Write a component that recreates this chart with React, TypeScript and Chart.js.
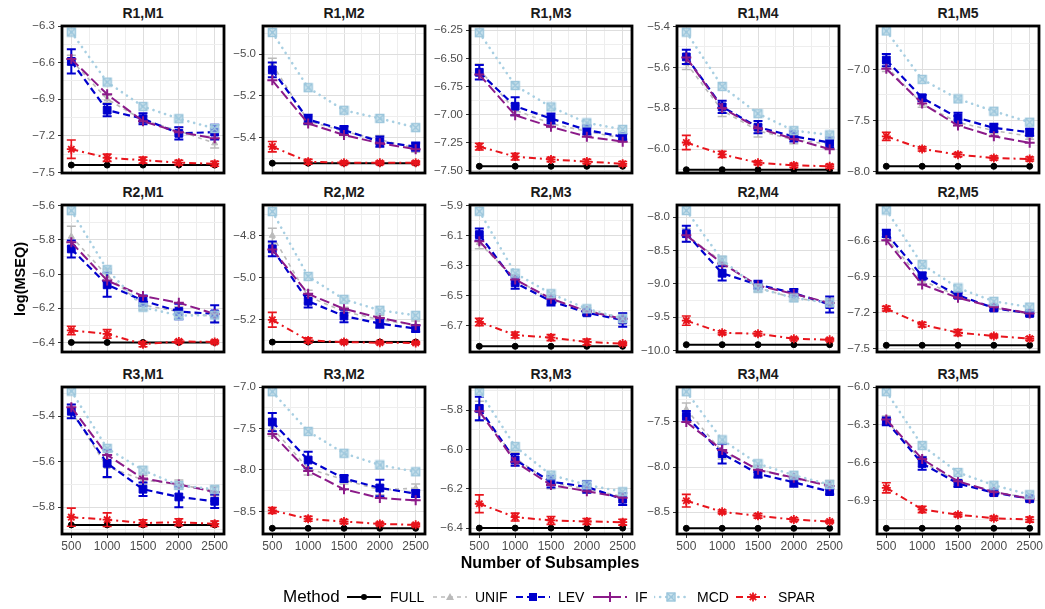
import React, { useEffect, useRef } from "react";
import { Chart, registerables } from "chart.js";
Chart.register(...registerables);

// ---------------- DATA ----------------
const SUBSAMPLES = [500, 1000, 1500, 2000, 2500];
const X_GRID = [500, 750, 1000, 1250, 1500, 1750, 2000, 2250, 2500];
const METHODS = ["FULL", "UNIF", "LEV", "IF", "MCD", "SPAR"];
const PANEL_TITLES = [
  "R1,M1", "R1,M2", "R1,M3", "R1,M4", "R1,M5",
  "R2,M1", "R2,M2", "R2,M3", "R2,M4", "R2,M5",
  "R3,M1", "R3,M2", "R3,M3", "R3,M4", "R3,M5",
];

const FULL = [
  [-7.44, -7.44, -7.44, -7.44, -7.44],
  [-5.522, -5.522, -5.522, -5.522, -5.522],
  [-7.46, -7.46, -7.46, -7.46, -7.46],
  [-6.10, -6.10, -6.10, -6.10, -6.10],
  [-7.95, -7.95, -7.95, -7.95, -7.95],
  [-6.40, -6.40, -6.40, -6.40, -6.40],
  [-5.306, -5.306, -5.306, -5.306, -5.306],
  [-6.837, -6.837, -6.837, -6.837, -6.837],
  [-9.91, -9.91, -9.91, -9.91, -9.91],
  [-7.472, -7.472, -7.472, -7.472, -7.472],
  [-5.878, -5.878, -5.878, -5.878, -5.878],
  [-8.703, -8.703, -8.703, -8.703, -8.703],
  [-6.40, -6.40, -6.40, -6.40, -6.40],
  [-8.679, -8.679, -8.679, -8.679, -8.679],
  [-7.118, -7.118, -7.118, -7.118, -7.118],
];
const UNIF = [
  [-6.58, -6.90, -7.07, -7.16, -7.26],
  [-5.05, -5.32, -5.37, -5.41, -5.45],
  [-6.60, -6.96, -7.08, -7.15, -7.21],
  [-5.58, -5.81, -5.91, -5.953, -5.975],
  [-6.97, -7.34, -7.52, -7.60, -7.656],
  [-5.78, -6.01, -6.18, -6.22, -6.25],
  [-4.80, -5.09, -5.16, -5.20, -5.226],
  [-6.148, -6.39, -6.525, -6.60, -6.645],
  [-8.27, -8.667, -9.06, -9.21, -9.28],
  [-6.57, -6.93, -7.06, -7.16, -7.21],
  [-5.378, -5.622, -5.68, -5.70, -5.73],
  [-7.495, -7.98, -8.12, -8.24, -8.22],
  [-5.805, -6.044, -6.17, -6.20, -6.24],
  [-7.36, -7.83, -8.02, -8.13, -8.19],
  [-6.26, -6.59, -6.75, -6.826, -6.88],
];
const LEV = [
  [-6.59, -6.99, -7.06, -7.18, -7.17],
  [-5.076, -5.313, -5.364, -5.419, -5.443],
  [-6.624, -6.926, -7.035, -7.138, -7.197],
  [-5.549, -5.793, -5.892, -5.937, -5.967],
  [-6.908, -7.279, -7.475, -7.574, -7.616],
  [-5.853, -6.063, -6.155, -6.219, -6.233],
  [-4.863, -5.112, -5.182, -5.218, -5.242],
  [-6.093, -6.414, -6.536, -6.614, -6.662],
  [-8.247, -8.84, -9.012, -9.136, -9.309],
  [-6.536, -6.892, -7.053, -7.16, -7.205],
  [-5.378, -5.607, -5.721, -5.755, -5.774],
  [-7.422, -7.88, -8.103, -8.217, -8.285],
  [-5.791, -6.053, -6.164, -6.19, -6.253],
  [-7.437, -7.851, -8.075, -8.168, -8.272],
  [-6.272, -6.605, -6.764, -6.836, -6.884],
];
const IF = [
  [-6.57, -6.86, -7.08, -7.17, -7.22],
  [-5.126, -5.332, -5.387, -5.427, -5.455],
  [-6.644, -7.006, -7.109, -7.197, -7.241],
  [-5.552, -5.798, -5.897, -5.95, -6.0],
  [-6.993, -7.334, -7.551, -7.656, -7.72],
  [-5.814, -6.038, -6.129, -6.168, -6.233],
  [-4.866, -5.077, -5.148, -5.191, -5.226],
  [-6.137, -6.392, -6.52, -6.603, -6.654],
  [-8.272, -8.692, -9.023, -9.15, -9.284],
  [-6.592, -6.963, -7.075, -7.152, -7.205],
  [-5.36, -5.57, -5.674, -5.70, -5.733],
  [-7.568, -8.014, -8.233, -8.338, -8.366],
  [-5.805, -6.062, -6.181, -6.212, -6.246],
  [-7.50, -7.81, -8.03, -8.117, -8.209],
  [-6.258, -6.57, -6.746, -6.83, -6.884],
];
const MCD = [
  [-6.35, -6.76, -6.96, -7.06, -7.14],
  [-4.897, -5.161, -5.269, -5.308, -5.352],
  [-6.271, -6.741, -6.932, -7.074, -7.132],
  [-5.428, -5.693, -5.826, -5.909, -5.93],
  [-6.623, -7.098, -7.289, -7.41, -7.518],
  [-5.629, -5.974, -6.194, -6.243, -6.24],
  [-4.686, -4.994, -5.103, -5.155, -5.179],
  [-5.938, -6.35, -6.487, -6.587, -6.653],
  [-7.90, -8.642, -9.062, -9.21, -9.284],
  [-6.34, -6.796, -6.992, -7.104, -7.152],
  [-5.289, -5.541, -5.637, -5.704, -5.721],
  [-7.057, -7.535, -7.799, -7.94, -8.022],
  [-5.702, -5.985, -6.13, -6.18, -6.215],
  [-7.164, -7.698, -7.963, -8.09, -8.194],
  [-6.037, -6.463, -6.676, -6.777, -6.852],
];
const SPAR = [
  [-7.31, -7.38, -7.40, -7.42, -7.43],
  [-5.443, -5.515, -5.52, -5.52, -5.52],
  [-7.285, -7.374, -7.40, -7.418, -7.438],
  [-5.967, -6.025, -6.066, -6.079, -6.083],
  [-7.656, -7.78, -7.836, -7.869, -7.879],
  [-6.33, -6.35, -6.41, -6.394, -6.397],
  [-5.20, -5.298, -5.306, -5.309, -5.31],
  [-6.675, -6.762, -6.779, -6.808, -6.819],
  [-9.55, -9.732, -9.747, -9.821, -9.836],
  [-7.165, -7.299, -7.366, -7.394, -7.416],
  [-5.844, -5.855, -5.87, -5.866, -5.873],
  [-8.488, -8.589, -8.622, -8.65, -8.662],
  [-6.276, -6.344, -6.361, -6.366, -6.37],
  [-8.373, -8.496, -8.541, -8.582, -8.604],
  [-6.798, -6.969, -7.011, -7.038, -7.049],
];

const UNIF_ERR = [
  [0.04, 0.03, 0.03, 0.03, 0.04],
  [0.03, 0.02, 0.02, 0.02, 0.02],
  [0.05, 0.04, 0.03, 0.03, 0.03],
  [0.03, 0.03, 0.03, 0.02, 0.02],
  [0.05, 0.03, 0.03, 0.03, 0.03],
  [0.06, 0.04, 0.03, 0.03, 0.03],
  [0.035, 0.03, 0.02, 0.02, 0.02],
  [0.04, 0.03, 0.03, 0.02, 0.03],
  [0.1, 0.08, 0.06, 0.05, 0.06],
  [0.03, 0.03, 0.02, 0.02, 0.02],
  [0.03, 0.05, 0.02, 0.02, 0.02],
  [0.1, 0.08, 0.05, 0.06, 0.05],
  [0.05, 0.03, 0.03, 0.02, 0.02],
  [0.07, 0.08, 0.04, 0.04, 0.04],
  [0.03, 0.04, 0.02, 0.02, 0.02],
];
const LEV_ERR = [
  [0.10, 0.05, 0.045, 0.05, 0.06],
  [0.035, 0.022, 0.02, 0.025, 0.02],
  [0.065, 0.08, 0.045, 0.04, 0.025],
  [0.035, 0.03, 0.03, 0.025, 0.025],
  [0.06, 0.03, 0.05, 0.04, 0.035],
  [0.05, 0.07, 0.03, 0.045, 0.05],
  [0.035, 0.03, 0.03, 0.02, 0.015],
  [0.04, 0.04, 0.03, 0.015, 0.045],
  [0.12, 0.11, 0.06, 0.06, 0.12],
  [0.03, 0.03, 0.02, 0.02, 0.02],
  [0.03, 0.06, 0.03, 0.045, 0.03],
  [0.11, 0.10, 0.04, 0.10, 0.04],
  [0.06, 0.03, 0.03, 0.03, 0.03],
  [0.06, 0.11, 0.04, 0.05, 0.03],
  [0.03, 0.05, 0.025, 0.02, 0.015],
];
const SPAR_ERR = [
  [0.075, 0.03, 0.025, 0.02, 0.02],
  [0.025, 0.012, 0.008, 0.008, 0.008],
  [0.03, 0.03, 0.02, 0.02, 0.02],
  [0.035, 0.015, 0.01, 0.01, 0.01],
  [0.04, 0.02, 0.02, 0.02, 0.02],
  [0.025, 0.025, 0.015, 0.01, 0.01],
  [0.035, 0.012, 0.008, 0.006, 0.006],
  [0.025, 0.02, 0.02, 0.02, 0.01],
  [0.07, 0.03, 0.03, 0.02, 0.02],
  [0.02, 0.02, 0.025, 0.015, 0.015],
  [0.04, 0.03, 0.015, 0.015, 0.012],
  [0.035, 0.03, 0.025, 0.02, 0.02],
  [0.045, 0.02, 0.02, 0.015, 0.015],
  [0.07, 0.02, 0.025, 0.02, 0.015],
  [0.04, 0.025, 0.015, 0.015, 0.02],
];

const Y_TICK_LABELS = [
  ["−6.3", "−6.6", "−6.9", "−7.2", "−7.5"],
  ["−5.0", "−5.2", "−5.4"],
  ["−6.25", "−6.50", "−6.75", "−7.00", "−7.25", "−7.50"],
  ["−5.4", "−5.6", "−5.8", "−6.0"],
  ["−7.0", "−7.5", "−8.0"],
  ["−5.6", "−5.8", "−6.0", "−6.2", "−6.4"],
  ["−4.8", "−5.0", "−5.2"],
  ["−5.9", "−6.1", "−6.3", "−6.5", "−6.7"],
  ["−8.0", "−8.5", "−9.0", "−9.5", "−10.0"],
  ["−6.6", "−6.9", "−7.2", "−7.5"],
  ["−5.4", "−5.6", "−5.8"],
  ["−7.0", "−7.5", "−8.0", "−8.5"],
  ["−5.8", "−6.0", "−6.2", "−6.4"],
  ["−7.5", "−8.0", "−8.5"],
  ["−6.0", "−6.3", "−6.6", "−6.9"],
];
const Y_RANGE = [
  [-7.505, -6.30],
  [-5.569, -4.866],
  [-7.52, -6.212],
  [-6.116, -5.398],
  [-8.016, -6.574],
  [-6.456, -5.596],
  [-5.353, -4.655],
  [-6.875, -5.896],
  [-10.02, -7.817],
  [-7.528, -6.298],
  [-5.918, -5.271],
  [-8.772, -7.0],
  [-6.43, -5.682],
  [-8.742, -7.112],
  [-7.163, -6.0],
];
const X_RANGE = [370, 2630];

// ---------------- STYLE / LAYOUT ----------------
const FONT = "'Liberation Sans', Arial, Helvetica, sans-serif";
const COL_LEFT = [62, 263, 470, 677, 877];
const ROW_TOP = [26, 205, 387];
const PLOT_W = 162;
const PLOT_H = 147;
const AX = 46;
const PAD = 10;
const XAX = 22;

const COLORS: Record<string, string> = {
  FULL: "#000000",
  UNIF: "#bababa",
  LEV: "#0000cd",
  IF: "#8b1a89",
  MCD: "#a8cfe2",
  SPAR: "#e8141c",
};

function makeMcdMarker(size = 11) {
  const c = document.createElement("canvas");
  c.width = size;
  c.height = size;
  const g = c.getContext("2d")!;
  const a = 1.5, b = size - 1.5;
  g.fillStyle = "rgba(168,207,226,0.55)";
  g.fillRect(a, a, b - a, b - a);
  g.strokeStyle = "#9cc6dc";
  g.lineWidth = 1.4;
  g.strokeRect(a, a, b - a, b - a);
  g.beginPath();
  g.moveTo(a, a); g.lineTo(b, b);
  g.moveTo(b, a); g.lineTo(a, b);
  g.stroke();
  return c;
}

const toNum = (s: string) => parseFloat(s.replace("−", "-"));

const errorBarPlugin = {
  id: "errbars",
  afterDatasetDraw(chart: any, args: any) {
    const ds = chart.data.datasets[args.index];
    if (!ds.errors) return;
    const ctx = chart.ctx;
    const xs = chart.scales.x, ys = chart.scales.y;
    ctx.save();
    ctx.strokeStyle = ds.errColor;
    ctx.lineWidth = ds.errWidth;
    ctx.setLineDash([]);
    ds.data.forEach((p: any, i: number) => {
      const e = ds.errors[i];
      const x = xs.getPixelForValue(p.x);
      const y1 = ys.getPixelForValue(p.y + e);
      const y2 = ys.getPixelForValue(p.y - e);
      ctx.beginPath();
      ctx.moveTo(x, y1); ctx.lineTo(x, y2);
      ctx.moveTo(x - 4.5, y1); ctx.lineTo(x + 4.5, y1);
      ctx.moveTo(x - 4.5, y2); ctx.lineTo(x + 4.5, y2);
      ctx.stroke();
    });
    ctx.restore();
  },
};

const framePlugin = {
  id: "frame",
  afterDraw(chart: any) {
    const { left, top, right, bottom } = chart.chartArea;
    const ctx = chart.ctx;
    ctx.save();
    ctx.strokeStyle = "#000";
    ctx.lineWidth = 2.8;
    ctx.strokeRect(left, top, right - left, bottom - top);
    ctx.restore();
  },
};

function buildConfig(p: number, mcdMarker: HTMLCanvasElement): any {
  const r = Math.floor(p / 5);
  const isBottom = r === 2;
  const labels = Y_TICK_LABELS[p];
  const majors = labels.map(toNum);
  const [lo, hi] = Y_RANGE[p];
  const step = Math.abs(majors[0] - majors[1]);
  const start = Math.min(...majors) - step;
  const yTicks: number[] = [];
  for (let k = 0; k < 200; k++) {
    const v = Math.round((start + (k * step) / 2) * 1e6) / 1e6;
    if (v > hi + 1e-9) break;
    if (v >= lo - 1e-9) yTicks.push(v);
  }
  const yMajor = (v: any) => majors.some((m) => Math.abs(m - v) < 1e-6);
  const xMajor = (v: any) => SUBSAMPLES.includes(v);

  const series: Record<string, number[][]> = { FULL, UNIF, LEV, IF, MCD, SPAR };
  const errs: Record<string, number[][] | undefined> = { UNIF: UNIF_ERR, LEV: LEV_ERR, SPAR: SPAR_ERR };
  const styles: Record<string, any> = {
    FULL: { borderWidth: 2, borderDash: [], pointStyle: "circle", pointRadius: 3, pointBorderWidth: 1, pointBackgroundColor: COLORS.FULL },
    UNIF: { borderWidth: 1.6, borderDash: [4, 4], pointStyle: "triangle", pointRadius: 3.5, pointBorderWidth: 1, pointBackgroundColor: COLORS.UNIF, errWidth: 1.5 },
    LEV: { borderWidth: 2.2, borderDash: [7, 4], pointStyle: "rect", pointRadius: 5.5, pointBorderWidth: 1, pointBackgroundColor: COLORS.LEV, errWidth: 2 },
    IF: { borderWidth: 2, borderDash: [10, 4], pointStyle: "cross", pointRadius: 5, pointBorderWidth: 2, pointBackgroundColor: COLORS.IF },
    MCD: { borderWidth: 2.6, borderDash: [0.1, 6], borderCapStyle: "round", pointStyle: mcdMarker, pointRadius: 5, pointBorderWidth: 1, pointBackgroundColor: COLORS.MCD },
    SPAR: { borderWidth: 2, borderDash: [7, 4, 2, 4], pointStyle: "star", pointRadius: 4.5, pointBorderWidth: 1.8, pointBackgroundColor: COLORS.SPAR, errWidth: 1.6 },
  };

  const datasets = METHODS.map((m, mi) => {
    const e = errs[m];
    return {
      label: m,
      data: SUBSAMPLES.map((x, i) => ({ x, y: series[m][p][i] })),
      borderColor: COLORS[m],
      pointBorderColor: COLORS[m],
      tension: 0,
      fill: false,
      clip: false,
      order: METHODS.length - 1 - mi,
      errors: e ? e[p] : undefined,
      errColor: COLORS[m],
      ...styles[m],
    };
  });

  return {
    type: "line",
    data: { datasets },
    options: {
      animation: false,
      responsive: false,
      maintainAspectRatio: false,
      events: [],
      layout: { padding: { left: 0, top: PAD, right: PAD, bottom: isBottom ? 0 : PAD } },
      plugins: { legend: { display: false }, tooltip: { enabled: false }, title: { display: false } },
      scales: {
        x: {
          type: "linear",
          min: X_RANGE[0],
          max: X_RANGE[1],
          afterBuildTicks: (s: any) => { s.ticks = X_GRID.map((v) => ({ value: v })); },
          afterFit: (s: any) => {
            s.height = isBottom ? XAX : 0;
            s.paddingLeft = 0; s.paddingRight = 0; s.paddingTop = 0; s.paddingBottom = 0;
          },
          ticks: {
            display: isBottom,
            autoSkip: false,
            maxRotation: 0,
            padding: 1,
            color: "#4d4d4d",
            font: { family: FONT, size: 12 },
            callback: (v: any) => (xMajor(v) ? String(v) : ""),
          },
          grid: {
            drawTicks: isBottom,
            tickLength: 4,
            lineWidth: 1,
            color: (c: any) => (c.tick && xMajor(c.tick.value) ? "#dedede" : "#eeeeee"),
            tickColor: (c: any) => (c.tick && xMajor(c.tick.value) ? "#333333" : "rgba(0,0,0,0)"),
          },
          border: { display: false },
        },
        y: {
          type: "linear",
          min: lo,
          max: hi,
          afterBuildTicks: (s: any) => { s.ticks = yTicks.map((v) => ({ value: v })); },
          afterFit: (s: any) => {
            s.width = AX;
            s.paddingLeft = 0; s.paddingRight = 0; s.paddingTop = 0; s.paddingBottom = 0;
          },
          ticks: {
            autoSkip: false,
            padding: 3,
            color: "#4d4d4d",
            font: { family: FONT, size: 11.5 },
            callback: (v: any) => {
              const i = majors.findIndex((m) => Math.abs(m - v) < 1e-6);
              return i >= 0 ? labels[i] : "";
            },
          },
          grid: {
            drawTicks: true,
            tickLength: 4,
            lineWidth: 1,
            color: (c: any) => (c.tick && yMajor(c.tick.value) ? "#dedede" : "#eeeeee"),
            tickColor: (c: any) => (c.tick && yMajor(c.tick.value) ? "#333333" : "rgba(0,0,0,0)"),
          },
          border: { display: false },
        },
      },
    },
    plugins: [errorBarPlugin, framePlugin],
  };
}

function LegendKey({ m }: { m: string }) {
  const col = COLORS[m];
  const w = 34, h = 16, cx = 17, cy = 8;
  let dash = "";
  let sw = 2;
  let cap: any = "butt";
  if (m === "UNIF") { dash = "4 4"; sw = 1.6; }
  if (m === "LEV") dash = "7 4";
  if (m === "IF") dash = "12 4";
  if (m === "MCD") { dash = "0.1 6"; sw = 2.6; cap = "round"; }
  if (m === "SPAR") dash = "7 4 2 4";
  let marker: any = null;
  if (m === "FULL") marker = <circle cx={cx} cy={cy} r={3} fill={col} />;
  if (m === "UNIF") marker = <polygon points={`${cx},${cy - 4} ${cx + 4},${cy + 3} ${cx - 4},${cy + 3}`} fill={col} />;
  if (m === "LEV") marker = <rect x={cx - 4} y={cy - 4} width={8} height={8} fill={col} />;
  if (m === "IF") marker = <path d={`M${cx - 5} ${cy} H${cx + 5} M${cx} ${cy - 5} V${cy + 5}`} stroke={col} strokeWidth={2} />;
  if (m === "MCD") marker = (
    <g stroke="#9cc6dc" strokeWidth={1.4} fill="rgba(168,207,226,0.55)">
      <rect x={cx - 4} y={cy - 4} width={8} height={8} />
      <path d={`M${cx - 4} ${cy - 4} L${cx + 4} ${cy + 4} M${cx + 4} ${cy - 4} L${cx - 4} ${cy + 4}`} />
    </g>
  );
  if (m === "SPAR") marker = (
    <path
      d={`M${cx - 4.5} ${cy} H${cx + 4.5} M${cx} ${cy - 4.5} V${cy + 4.5} M${cx - 3.2} ${cy - 3.2} L${cx + 3.2} ${cy + 3.2} M${cx + 3.2} ${cy - 3.2} L${cx - 3.2} ${cy + 3.2}`}
      stroke={col}
      strokeWidth={1.8}
    />
  );
  return (
    <svg width={w} height={h} style={{ display: "block" }}>
      <line x1={0} y1={cy} x2={w} y2={cy} stroke={col} strokeWidth={sw} strokeDasharray={dash} strokeLinecap={cap} />
      {marker}
    </svg>
  );
}

const LEGEND_POS: Record<string, [number, number]> = {
  FULL: [347, 390],
  UNIF: [433, 475],
  LEV: [516, 558],
  IF: [593, 635],
  MCD: [654, 697],
  SPAR: [736, 778],
};

export default function App() {
  const refs = useRef<(HTMLCanvasElement | null)[]>([]);

  useEffect(() => {
    const marker = makeMcdMarker();
    const charts = PANEL_TITLES.map((_, p) => new Chart(refs.current[p] as HTMLCanvasElement, buildConfig(p, marker)));
    return () => charts.forEach((c) => c.destroy());
  }, []);

  return (
    <div style={{ position: "absolute", left: 0, top: 0, width: 1045, height: 609, overflow: "hidden", background: "#fff", fontFamily: FONT }}>
      {PANEL_TITLES.map((t, p) => {
        const r = Math.floor(p / 5), c = p % 5;
        return (
          <div key={"t" + p} style={{ position: "absolute", left: COL_LEFT[c], top: ROW_TOP[r] - 22, width: PLOT_W, height: 18, lineHeight: "18px", textAlign: "center", fontWeight: "bold", fontSize: 14, color: "#1a1a1a" }}>
            {t}
          </div>
        );
      })}
      {PANEL_TITLES.map((_, p) => {
        const r = Math.floor(p / 5), c = p % 5;
        const w = AX + PLOT_W + PAD;
        const h = PAD + PLOT_H + (r === 2 ? XAX : PAD);
        return (
          <canvas
            key={"c" + p}
            ref={(el) => { refs.current[p] = el; }}
            width={w}
            height={h}
            style={{ position: "absolute", left: COL_LEFT[c] - AX, top: ROW_TOP[r] - PAD, width: w, height: h }}
          />
        );
      })}
      <div style={{ position: "absolute", left: 20 - 70, top: 279 - 10, width: 140, height: 20, lineHeight: "20px", textAlign: "center", transform: "rotate(-90deg)", fontWeight: "bold", fontSize: 14.5, color: "#000" }}>
        log(MSEQ)
      </div>
      <div style={{ position: "absolute", left: 350, top: 553, width: 400, height: 20, lineHeight: "20px", textAlign: "center", fontWeight: "bold", fontSize: 16, color: "#000" }}>
        Number of Subsamples
      </div>
      <div style={{ position: "absolute", left: 283, top: 587, height: 20, lineHeight: "20px", fontSize: 17, color: "#000" }}>Method</div>
      {METHODS.map((m) => (
        <React.Fragment key={"l" + m}>
          <div style={{ position: "absolute", left: LEGEND_POS[m][0], top: 589 }}>
            <LegendKey m={m} />
          </div>
          <div style={{ position: "absolute", left: LEGEND_POS[m][1], top: 588, height: 18, lineHeight: "18px", fontSize: 14, color: "#000" }}>{m}</div>
        </React.Fragment>
      ))}
    </div>
  );
}
